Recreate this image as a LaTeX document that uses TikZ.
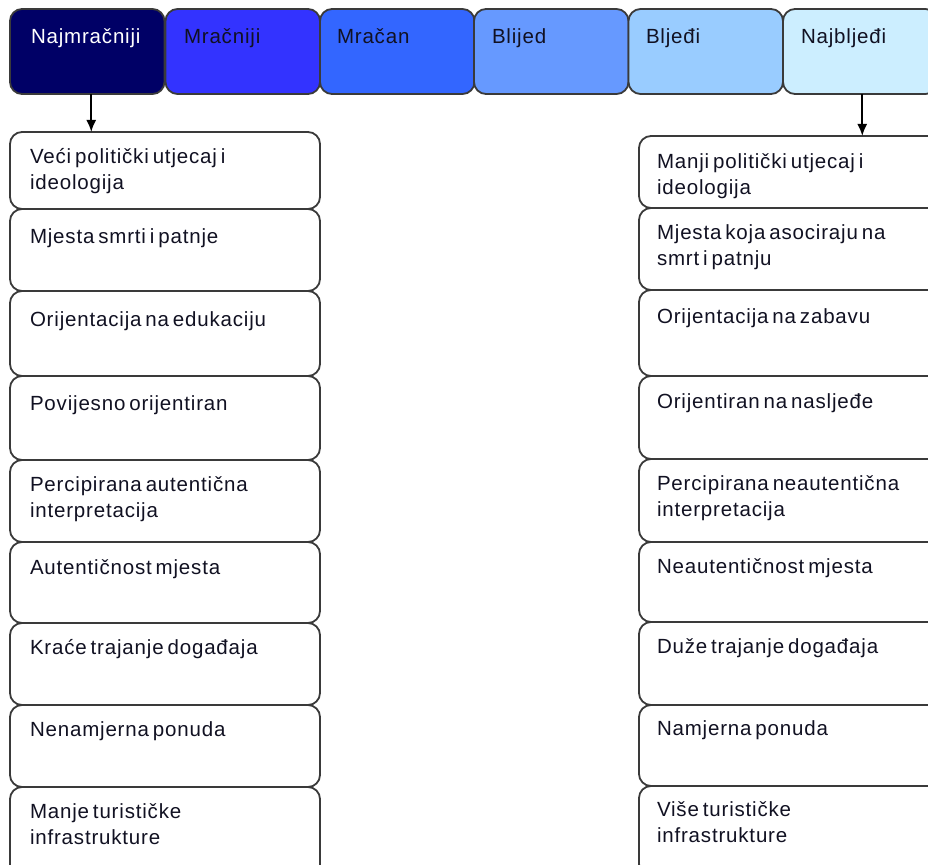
\documentclass[tikz,border=0pt]{standalone}
\usepackage{fontspec}
\setmainfont{Liberation Sans}[LetterSpace=4,WordSpace=0.6]
\usetikzlibrary{arrows.meta}
\definecolor{tc1}{HTML}{000066}
\definecolor{tc2}{HTML}{3333FF}
\definecolor{tc3}{HTML}{3366FF}
\definecolor{tc4}{HTML}{6699FF}
\definecolor{tc5}{HTML}{99CCFF}
\definecolor{tc6}{HTML}{CCEEFF}
\definecolor{edge}{HTML}{3A3A3A}
\definecolor{ink}{HTML}{111122}
\tikzset{
  topbox/.style={draw=edge, line width=1.8pt, rounded corners=12pt, anchor=north west,
    minimum width=154.5pt, minimum height=85pt, inner sep=0pt, outer sep=0pt},
  colbox/.style={draw=edge, line width=1.8pt, rounded corners=12pt, anchor=north west, fill=white,
    minimum width=310pt, inner sep=0pt, outer sep=0pt},
  lbl/.style={anchor=north west, inner sep=0pt, outer sep=0pt, align=left, text=ink,
    font=\fontsize{20.5pt}{25.5pt}\selectfont},
  conn/.style={draw=black, line width=1.8pt, -{Latex[length=12pt,width=10pt]}}
}
\newcommand{\fl}{\rule{0pt}{16.5pt}}
\begin{document}
\begin{tikzpicture}[x=1pt,y=-1pt]
\useasboundingbox (0,0) rectangle (928,864);
\clip (0,0) rectangle (928,864);
\fill[white] (0,0) rectangle (928,864);
% top row
\node[topbox, fill=tc1] (t1) at (10,9) {};
\node[topbox, fill=tc2] (t2) at (165.5,9) {};
\node[topbox, fill=tc3] (t3) at (320,9) {};
\node[topbox, fill=tc4] (t4) at (474,9) {};
\node[topbox, fill=tc5] (t5) at (628.5,9) {};
\node[topbox, fill=tc6] (t6) at (783,9) {};
\node[lbl, text=white] (t1l) at (31,27) {\fl Najmračniji};
\node[lbl] (t2l) at (184,27) {\fl Mračniji};
\node[lbl] (t3l) at (337,27) {\fl Mračan};
\node[lbl] (t4l) at (492,27) {\fl Blijed};
\node[lbl] (t5l) at (646,27) {\fl Bljeđi};
\node[lbl] (t6l) at (801,27) {\fl Najbljeđi};
% left column
\node[colbox, minimum height=77pt] (l1) at (10,132) {};
\node[colbox, minimum height=82pt] (l2) at (10,209) {};
\node[colbox, minimum height=85pt] (l3) at (10,291) {};
\node[colbox, minimum height=84pt] (l4) at (10,376) {};
\node[colbox, minimum height=82pt] (l5) at (10,460) {};
\node[colbox, minimum height=81pt] (l6) at (10,542) {};
\node[colbox, minimum height=82pt] (l7) at (10,623) {};
\node[colbox, minimum height=82pt] (l8) at (10,705) {};
\node[colbox, minimum height=90pt] (l9) at (10,787) {};
\node[lbl] (l1l) at (30,147) {\fl Veći politički utjecaj i\\ideologija};
\node[lbl] (l2l) at (30,227) {\fl Mjesta smrti i patnje};
\node[lbl] (l3l) at (30,310) {\fl Orijentacija na edukaciju};
\node[lbl] (l4l) at (30,394) {\fl Povijesno orijentiran};
\node[lbl] (l5l) at (30,475) {\fl Percipirana autentična\\interpretacija};
\node[lbl] (l6l) at (30,558) {\fl Autentičnost mjesta};
\node[lbl] (l7l) at (30,638) {\fl Kraće trajanje događaja};
\node[lbl] (l8l) at (30,720) {\fl Nenamjerna ponuda};
\node[lbl] (l9l) at (30,802) {\fl Manje turističke\\infrastrukture};
% right column
\node[colbox, minimum height=72pt] (r1) at (639,136) {};
\node[colbox, minimum height=82pt] (r2) at (639,208) {};
\node[colbox, minimum height=86pt] (r3) at (639,290) {};
\node[colbox, minimum height=83pt] (r4) at (639,376) {};
\node[colbox, minimum height=83pt] (r5) at (639,459) {};
\node[colbox, minimum height=80pt] (r6) at (639,542) {};
\node[colbox, minimum height=83pt] (r7) at (639,622) {};
\node[colbox, minimum height=81pt] (r8) at (639,705) {};
\node[colbox, minimum height=90pt] (r9) at (639,786) {};
\node[lbl] (r1l) at (657,152) {\fl Manji politički utjecaj i\\ideologija};
\node[lbl] (r2l) at (657,223) {\fl Mjesta koja asociraju na\\smrt i patnju};
\node[lbl] (r3l) at (657,307) {\fl Orijentacija na zabavu};
\node[lbl] (r4l) at (657,392) {\fl Orijentiran na nasljeđe};
\node[lbl] (r5l) at (657,474) {\fl Percipirana neautentična\\interpretacija};
\node[lbl] (r6l) at (657,557) {\fl Neautentičnost mjesta};
\node[lbl] (r7l) at (657,637) {\fl Duže trajanje događaja};
\node[lbl] (r8l) at (657,719) {\fl Namjerna ponuda};
\node[lbl] (r9l) at (657,800) {\fl Više turističke\\infrastrukture};
% connectors
\draw[conn] ([xshift=4pt]t1.south) -- ([xshift=4pt]t1.south |- l1.north);
\draw[conn] ([xshift=2pt]t6.south) -- ([xshift=2pt]t6.south |- r1.north);
\end{tikzpicture}
\end{document}
